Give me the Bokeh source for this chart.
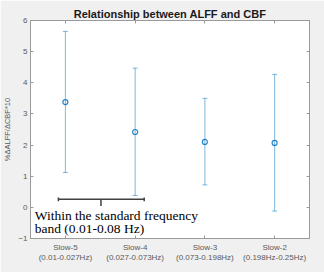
from bokeh.plotting import figure
from bokeh.models import (ColumnDataSource, Whisker, TeeHead, FixedTicker, LinearAxis,
                          Label, Range1d)
from bokeh.embed import file_html
from bokeh.resources import INLINE

categories = ["Slow-5", "Slow-4", "Slow-3", "Slow-2"]
bands = ["(0.01-0.027Hz)", "(0.027-0.073Hz)", "(0.073-0.198Hz)", "(0.198Hz-0.25Hz)"]
means = [3.38, 2.42, 2.10, 2.07]
upper = [5.65, 4.47, 3.50, 4.27]
lower = [1.12, 0.38, 0.72, -0.12]
y_ticks = [-1, 0, 1, 2, 3, 4, 5, 6]

xs = list(range(1, len(categories) + 1))
src = ColumnDataSource(dict(x=xs, m=means, up=upper, lo=lower))

BLUE = "#0072BD"
AX = "#9a9a9a"
LBL = "#5a5a5a"
FONT = "Liberation Sans"

p = figure(width=324, height=272, output_backend="svg", toolbar_location=None,
           x_range=Range1d(0.5, 4.5), y_range=Range1d(-1, 6),
           min_border_left=27, min_border_right=15, min_border_top=20, min_border_bottom=34,
           background_fill_color="white", border_fill_color="#F0F0F0")
p.outline_line_color = AX
p.outline_line_width = 1
p.grid.visible = False

p.title.text = "Relationship between ALFF and CBF"
p.title.text_font = FONT
p.title.text_font_size = "11px"
p.title.text_font_style = "bold"
p.title.text_color = "#1a1a1a"
p.title.align = "center"
p.title.offset = 0
p.title.standoff = 1

w = Whisker(source=src, base="x", upper="up", lower="lo", dimension="height",
            line_color=BLUE, line_alpha=0.5, line_width=1,
            upper_head=TeeHead(size=5, line_color=BLUE, line_alpha=0.5, line_width=1),
            lower_head=TeeHead(size=5, line_color=BLUE, line_alpha=0.5, line_width=1))
p.add_layout(w)
p.scatter("x", "m", source=src, size=5, marker="circle", fill_color=None,
          line_color=BLUE, line_width=1.2, line_alpha=0.85)

def style_axis(ax):
    ax.axis_line_color = AX
    ax.major_tick_line_color = AX
    ax.major_tick_in = 3
    ax.major_tick_out = 0
    ax.minor_tick_line_color = None
    ax.major_label_text_font = FONT
    ax.major_label_text_font_size = "8px"
    ax.major_label_text_color = LBL
    ax.major_label_standoff = 3

xa = p.xaxis[0]
xa.ticker = FixedTicker(ticks=xs)
xa.major_label_overrides = {x: f"{c}\n{b}" for x, c, b in zip(xs, categories, bands)}
style_axis(xa)
xa.major_label_standoff = 4

ya = p.yaxis[0]
ya.ticker = FixedTicker(ticks=y_ticks)
style_axis(ya)
ya.axis_label = "%\u0394ALFF/\u0394CBF*10"
ya.axis_label_text_font = FONT
ya.axis_label_text_font_size = "7.5px"
ya.axis_label_text_font_style = "normal"
ya.axis_label_text_color = LBL
ya.axis_label_standoff = 3

# box-style ticks on top and right (no labels)
top = LinearAxis(ticker=FixedTicker(ticks=xs), major_label_overrides={x: "" for x in xs})
style_axis(top)
top.major_label_standoff = 0
p.add_layout(top, "above")
right = LinearAxis(ticker=FixedTicker(ticks=y_ticks), major_label_overrides={t: "" for t in y_ticks})
style_axis(right)
right.major_label_standoff = 0
p.add_layout(right, "right")

# bracket annotation
bx0, bx1, bxm, by = 0.90, 2.13, 1.51, 0.26
p.segment(x0=[bx0, bx0, bx1, bxm], y0=[by, by + 0.06, by + 0.06, by],
          x1=[bx1, bx0, bx1, bxm], y1=[by, by - 0.06, by - 0.06, by - 0.22],
          line_color="#404040", line_width=1.5)

for txt, yy in [("Within the standard frequency", -0.27), ("band (0.01-0.08 Hz)", -0.69)]:
    p.add_layout(Label(x=0.56, y=yy, text=txt, text_font="Liberation Serif",
                       text_font_size="13.5px", text_color="black",
                       text_baseline="alphabetic", text_align="left"))

open("out.html", "w").write(file_html(p, INLINE))
